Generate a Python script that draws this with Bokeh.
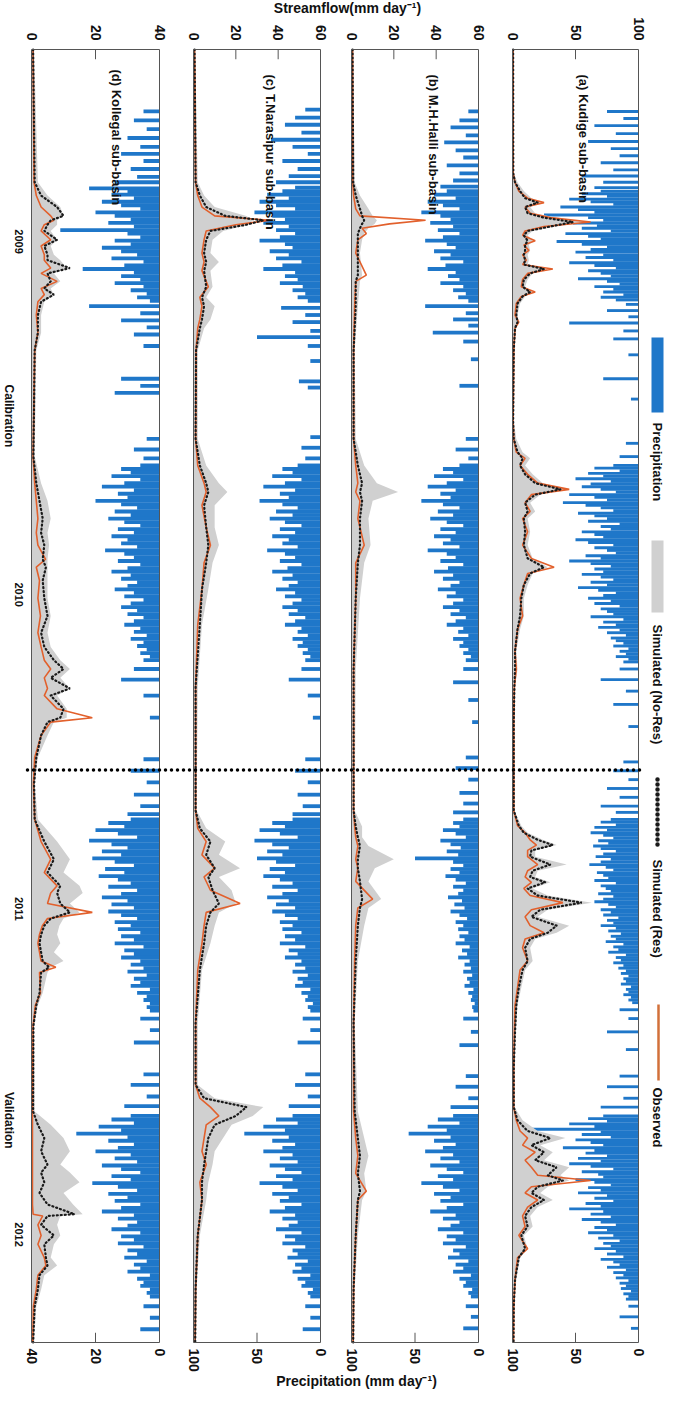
import math
from bokeh.plotting import figure
from bokeh.models import Range1d
from bokeh.core.properties import value
from bokeh.embed import file_html
from bokeh.resources import INLINE

FONT = "Liberation Sans"
BLUE = "#1F77C9"
GREY = "#D0D0D0"
ORANGE = "#E2602C"
DOTS = "#1A1A1A"

# ---------------- data ----------------
n_days = 1461                       # 2009-01-01 .. 2012-12-31, day index
years = ["2009", "2010", "2011", "2012"]
year_days = [217, 616, 971, 1339]
split_day = 814                     # calibration | validation
period_labels = ["Calibration", "Validation"]
period_days = [414, 1210]

panels = ["a", "b", "c", "d"]
titles = {"a": "(a)  Kudige sub-basin", "b": "(b) M.H.Halli sub-basin",
          "c": "(c) T.Narasipur  sub-basin", "d": "(d) Kollegal sub-basin"}
flow_max = {"a": 100, "b": 60, "c": 60, "d": 40}
prec_max = {"a": 100, "b": 100, "c": 100, "d": 40}
flow_ticks = {"a": [0, 50, 100], "b": [0, 20, 40, 60], "c": [0, 20, 40, 60], "d": [0, 20, 40]}
prec_ticks = {"a": [100, 50, 0], "b": [100, 50, 0], "c": [100, 50, 0], "d": [40, 20, 0]}

# streamflow (mm/day): day, observed, simulated (Res), simulated (No-Res)
day_a = [0, 140, 150, 160, 168, 173, 178, 185, 190, 195, 200, 205, 210, 216, 221, 227, 232, 238, 243, 248, 253, 260, 268, 274, 279, 287, 300, 308, 315, 340, 420,
         440, 455, 462, 470, 480, 490, 497, 503, 512, 522, 530, 545, 560, 575, 585, 592, 605, 620, 640, 655, 680, 700, 720, 760,
         860, 877, 885, 893, 899, 905, 912, 921, 928, 935, 941, 948, 956, 964, 972, 980, 990, 998, 1005, 1015, 1030, 1040, 1060, 1080, 1110, 1150,
         1195, 1210, 1222, 1230, 1238, 1246, 1255, 1263, 1272, 1278, 1285, 1292, 1300, 1308, 1318, 1330, 1340, 1355, 1365, 1390, 1420, 1461]
obs_a = [0.5, 0.6, 2, 5, 12, 25, 10, 14, 30, 62, 25, 10, 8, 18, 9, 13, 8, 11, 8, 32, 12, 8, 7, 18, 7, 3, 2, 5, 2, 1, 0.5,
         1, 3, 10, 6, 12, 20, 45, 15, 10, 14, 8, 12, 8, 15, 33, 12, 9, 6, 8, 4, 2, 3, 1.5, 1,
         1, 4, 10, 14, 19, 12, 12, 20, 12, 10, 15, 9, 14, 40, 15, 10, 14, 25, 10, 8, 12, 6, 4, 2, 1.5, 1,
         1, 3, 6, 12, 8, 18, 10, 15, 20, 62, 15, 10, 20, 12, 8, 10, 5, 12, 4, 2, 1, 0.8]
res_a = [0.5, 0.6, 2, 6, 10, 20, 10, 12, 25, 48, 30, 12, 9, 12, 10, 10, 9, 10, 9, 25, 14, 9, 8, 14, 8, 4, 3, 4, 2, 1, 0.5,
         1, 4, 8, 6, 10, 18, 38, 18, 10, 12, 9, 10, 9, 12, 25, 14, 9, 7, 6, 4, 2, 2, 1.5, 1,
         1, 5, 9, 20, 32, 15, 14, 30, 16, 14, 26, 12, 20, 55, 22, 15, 35, 28, 14, 10, 12, 8, 5, 3, 2, 1,
         1, 4, 12, 30, 15, 25, 18, 35, 28, 40, 20, 15, 25, 15, 10, 12, 7, 10, 5, 2, 1, 0.8]
nores_a = [0.8, 1, 4, 9, 15, 24, 14, 18, 35, 58, 35, 16, 12, 16, 13, 14, 12, 13, 12, 28, 16, 12, 10, 16, 10, 6, 4, 5, 3, 1.5, 1,
           3, 8, 14, 10, 16, 24, 42, 22, 14, 18, 12, 14, 12, 16, 28, 16, 12, 9, 9, 6, 3, 4, 2, 1.5,
           1.5, 7, 12, 24, 35, 18, 18, 43, 20, 18, 30, 16, 28, 63, 28, 20, 45, 35, 18, 14, 16, 10, 7, 4, 2.5, 1.5,
           1.5, 8, 20, 42, 22, 32, 25, 45, 38, 45, 28, 22, 32, 20, 14, 16, 9, 12, 6, 3, 1.5, 1]

day_b = [0, 150, 165, 180, 188, 193, 197, 202, 208, 215, 230, 255, 262, 290, 340,
         440, 470, 490, 500, 510, 530, 560, 580, 620, 700,
         860, 878, 890, 900, 915, 925, 940, 960, 970, 990, 1030, 1100,
         1200, 1230, 1250, 1270, 1290, 1300, 1340, 1400, 1461]
obs_b = [0.5, 0.6, 1, 2, 4, 35, 18, 5, 7, 3, 2, 7, 2, 1.5, 1,
         1, 2, 3, 2, 4, 3, 6, 2, 2, 1,
         1, 1.5, 2, 3, 2, 3, 2, 10, 3, 2, 1.5, 1,
         1, 2, 3, 2, 7, 3, 2, 1, 0.8]
res_b = [0.5, 0.8, 2, 4, 5, 6, 5, 4, 3, 3, 3, 3, 2, 2, 1,
         1, 3, 5, 4, 5, 4, 4, 3, 2, 1,
         1, 2, 3, 4, 3, 3, 4, 5, 4, 3, 2, 1,
         1.5, 3, 4, 3, 4, 3, 2, 1, 0.8]
nores_b = [0.8, 1.5, 4, 8, 10, 12, 11, 8, 6, 5, 4, 5, 4, 3, 1.5,
           2, 6, 12, 22, 10, 8, 9, 6, 4, 2,
           1.5, 5, 5, 8, 20, 11, 8, 14, 8, 6, 3, 1.5,
           3, 6, 8, 6, 7, 5, 3, 1.5, 1]

day_c = [0, 150, 165, 178, 188, 193, 198, 205, 215, 230, 240, 250, 268, 280, 290, 305, 315, 340,
         440, 470, 490, 500, 515, 540, 560, 580, 610, 650, 720,
         860, 880, 895, 910, 925, 935, 950, 965, 975, 990, 1010, 1040, 1100,
         1170, 1185, 1195, 1205, 1215, 1230, 1245, 1260, 1280, 1300, 1340, 1400, 1461]
obs_c = [0.5, 1, 2, 4, 10, 36, 20, 6, 5, 4, 5, 4, 7, 3, 4, 3, 2, 1.2,
         1, 2, 5, 6, 4, 6, 8, 5, 4, 2, 1,
         1, 2, 6, 4, 10, 5, 8, 22, 6, 5, 4, 2, 1,
         1, 3, 8, 12, 6, 5, 4, 6, 3, 4, 2, 1, 0.8]
res_c = [0.5, 1, 3, 6, 15, 33, 25, 8, 6, 5, 6, 5, 6, 4, 5, 4, 3, 1.2,
         1, 3, 6, 7, 5, 6, 7, 6, 4, 3, 1,
         1, 3, 8, 6, 10, 7, 9, 12, 8, 6, 5, 3, 1,
         1, 5, 25, 20, 10, 7, 6, 5, 4, 4, 2, 1, 0.8]
nores_c = [0.8, 2, 5, 10, 25, 28, 26, 14, 9, 8, 12, 8, 9, 6, 10, 8, 5, 2,
           2, 6, 12, 16, 10, 10, 12, 9, 7, 4, 2,
           1.5, 6, 15, 12, 22, 12, 18, 20, 12, 10, 8, 4, 2,
           2, 10, 33, 28, 18, 14, 10, 9, 7, 6, 3, 1.5, 1]

day_d = [0, 150, 165, 178, 188, 193, 198, 205, 215, 222, 232, 238, 247, 253, 262, 270, 277, 285, 300, 320, 340,
         460, 490, 510, 530, 546, 560, 576, 585, 600, 620, 640, 659, 675, 690, 700, 710, 722, 730, 745, 755, 760, 775, 800, 830,
         870, 895, 915, 930, 945, 953, 965, 975, 982, 990, 1000, 1010, 1020, 1030, 1037, 1043, 1066, 1080, 1103,
         1200, 1215, 1230, 1245, 1260, 1269, 1280, 1292, 1305, 1316, 1318, 1328, 1340, 1350, 1365, 1374, 1385, 1401, 1420, 1461]
obs_d = [0.5, 0.8, 1.5, 3, 6, 7, 4, 3, 6, 3, 4, 4, 6, 3, 8, 3, 4, 2, 1.5, 2, 1,
         0.5, 1, 1.5, 2, 1.5, 2, 4.4, 1.5, 2.5, 2, 2.8, 2, 3, 4, 6, 4, 5, 4, 8, 19, 6, 3, 1, 0.6,
         1, 3, 6, 4, 8, 6, 5, 19, 5, 3.4, 2.5, 2, 2.5, 3, 7.6, 2.5, 2.8, 1.2, 0.5,
         0.3, 0.3, 0.3, 0.3, 0.3, 0.3, 0.3, 0.3, 0.3, 0.5, 3.5, 2, 3, 2, 4, 4.5, 2, 1.5, 0.6, 0.4]
res_d = [0.5, 1, 3, 8, 10, 6, 5, 4, 8, 4, 5, 5, 12, 5, 6, 4, 7, 3, 2, 2, 1,
         0.6, 1.5, 2.5, 3.5, 3, 4, 3.5, 4.5, 3.5, 4, 5, 3, 4, 7, 10, 6, 12, 6, 10, 9, 5, 3, 1.5, 0.8,
         1, 4, 7, 5, 9, 8, 9, 12, 6, 4, 3, 2.5, 3, 3.5, 5.5, 3, 2.5, 1.5, 0.6,
         0.5, 2, 4, 3, 5, 3, 4, 2.5, 5, 13.4, 5, 3, 7, 4, 4.5, 5, 2.5, 2, 1, 0.5]
nores_d = [0.8, 2, 5, 9, 10, 8, 8, 6, 8, 6, 7, 9, 11, 7, 9, 6, 7, 4, 3, 3, 1.5,
           1, 3, 5, 6, 5, 5.5, 5, 5, 5, 5, 6, 5, 6, 9, 12, 9, 12, 8, 11, 11, 7, 5, 2, 1,
           2, 8, 12, 10, 15, 16, 12, 15, 10, 8.7, 8, 9, 7, 10, 6, 5, 3.5, 2, 0.8,
           1, 6, 10, 12, 9, 12, 15, 10, 13, 16, 9, 8, 9, 7, 6, 8, 4, 3, 1.5, 0.8]

# precipitation (mm/day): isolated days + wet-season runs (one value every `step` days)
prec_a_days = [70, 78, 86, 95, 104, 112, 120, 128, 136, 143, 150, 156, 288, 295, 302, 309, 318, 327, 345, 372, 395, 445, 460,
               700, 712, 725, 740, 765, 805, 815, 825, 835, 845, 855, 862, 1085, 1095, 1110, 1130, 1160, 1172, 1185, 1195, 1420, 1432, 1445]
prec_a_vals = [25, 12, 35, 18, 40, 22, 15, 30, 20, 45, 28, 35, 10, 25, 8, 55, 12, 20, 8, 28, 6, 10, 15,
               15, 30, 10, 20, 8, 12, 20, 8, 25, 15, 30, 18, 15, 8, 25, 10, 15, 25, 12, 30, 8, 15, 6]
prec_a_start, prec_a_step = [160, 470, 870, 1205], 3
prec_a_2009 = [30, 45, 25, 55, 38, 20, 62, 48, 35, 75, 40, 28, 52, 33, 45, 22, 58, 40, 30, 65, 45, 25, 38, 50, 28, 42, 20, 55, 35, 18, 40, 30, 22, 48, 25, 15, 35, 20, 28, 12, 30, 18]
prec_a_2010 = [20, 35, 15, 40, 28, 50, 22, 38, 45, 30, 18, 55, 35, 25, 60, 42, 30, 20, 48, 35, 25, 40, 15, 30, 22, 45, 35, 28, 50, 40, 20, 35, 25, 18, 42, 30, 55, 38,
               22, 35, 28, 45, 30, 20, 38, 25, 48, 32, 18, 28, 40, 22, 35, 15, 30, 25, 20, 38, 12, 28, 18, 32, 15, 25, 10, 22, 18, 12, 20, 8, 15, 10, 18, 8, 12]
prec_a_2011 = [22, 30, 18, 35, 25, 38, 28, 20, 32, 24, 36, 30, 18, 28, 34, 22, 30, 39, 26, 20, 33, 28, 24, 35, 18, 30, 26, 22, 32, 20, 28, 35, 24, 18, 30,
               22, 28, 16, 25, 20, 30, 18, 24, 14, 22, 18, 26, 12, 20, 16, 24, 10, 18, 14, 20, 12, 16, 10, 14, 8, 12, 10, 14, 6, 10, 8, 12, 6, 8, 5]
prec_a_2012 = [28, 40, 25, 55, 35, 90, 30, 45, 22, 50, 38, 28, 60, 35, 42, 25, 48, 30, 55, 38, 20, 45, 32, 28, 50, 35, 22, 40, 30, 48, 25, 35, 20, 42, 30,
               55, 28, 38, 22, 45, 30, 18, 35, 25, 40, 20, 32, 15, 28, 22, 35, 18, 25, 12, 30, 20, 15, 25, 10, 20, 12, 18, 8, 15, 10, 14, 6, 12, 8, 10]

prec_b_days = [70, 80, 88, 97, 105, 114, 122, 131, 140, 148, 155, 290, 298, 305, 312, 320, 330, 350, 380, 440, 452, 462,
               700, 715, 735, 760, 800, 812, 825, 840, 852, 862, 1095, 1110, 1125, 1160, 1172, 1185, 1195, 1420, 1432, 1445]
prec_b_vals = [8, 15, 22, 10, 27, 18, 12, 25, 15, 20, 30, 42, 10, 20, 8, 36, 12, 6, 15, 10, 18, 8,
               12, 20, 8, 5, 10, 18, 8, 15, 12, 20, 12, 6, 15, 10, 18, 8, 22, 10, 6, 12]
prec_b_start, prec_b_step = [160, 470, 870, 1205], 4
prec_b_2009 = [25, 35, 18, 40, 28, 15, 45, 30, 22, 38, 20, 32, 15, 28, 42, 25, 18, 35, 22, 30, 12, 26, 40, 18, 24, 15, 30, 12, 20, 10, 16, 8]
prec_b_2010 = [15, 28, 20, 35, 12, 25, 40, 18, 30, 22, 45, 28, 15, 32, 20, 38, 25, 12, 30, 18, 35, 22, 28, 15, 40, 25, 18, 30,
               12, 24, 35, 20, 28, 15, 22, 32, 18, 25, 12, 20, 28, 15, 22, 10, 18, 25, 12, 16, 8, 20, 12, 15, 8, 12, 6, 10]
prec_b_2011 = [12, 20, 15, 28, 18, 10, 30, 22, 14, 25, 16, 50, 20, 12, 22, 15, 26, 18, 10, 20, 12, 16, 24, 13, 19, 11, 22, 15,
               9, 18, 12, 16, 8, 15, 11, 18, 7, 13, 9, 16, 7, 11, 6, 12, 5, 9, 7, 11, 4, 8, 5, 6, 3, 5, 4]
prec_b_2012 = [20, 32, 15, 40, 25, 55, 22, 35, 18, 28, 42, 20, 30, 15, 38, 25, 12, 32, 20, 45, 28, 15, 35, 22, 30, 12,
               25, 38, 18, 28, 15, 22, 32, 12, 25, 18, 28, 10, 20, 15, 24, 8, 18, 12, 20, 6, 15, 10, 12, 5, 8, 6]

prec_c_days = [68, 77, 85, 94, 102, 110, 118, 126, 135, 143, 150, 156, 292, 300, 308, 318, 325, 335, 352, 375, 382, 438, 450, 462,
               700, 712, 730, 755, 802, 815, 828, 842, 855, 864, 1095, 1108, 1122, 1158, 1170, 1183, 1194, 1420, 1433, 1446]
prec_c_vals = [12, 20, 28, 15, 39, 22, 10, 30, 18, 25, 35, 20, 31, 12, 22, 8, 50, 10, 8, 17, 10, 8, 15, 12,
               15, 25, 10, 6, 12, 20, 10, 18, 14, 22, 14, 8, 18, 12, 20, 10, 25, 12, 8, 14]
prec_c_start, prec_c_step = [160, 470, 870, 1205], 4
prec_c_2009 = [30, 42, 25, 48, 35, 20, 52, 38, 28, 45, 25, 35, 20, 32, 48, 28, 22, 40, 25, 35, 15, 30, 45, 20, 28, 18, 32, 14, 22, 12, 18, 10]
prec_c_2010 = [18, 30, 22, 38, 15, 28, 45, 20, 32, 25, 48, 30, 18, 35, 22, 40, 28, 15, 32, 20, 38, 25, 30, 18, 42, 28, 20, 32,
               15, 26, 38, 22, 30, 18, 25, 35, 20, 28, 15, 22, 30, 18, 25, 12, 20, 28, 15, 18, 10, 22, 14, 18, 10, 14, 8, 12]
prec_c_2011 = [22, 38, 28, 48, 32, 18, 52, 38, 25, 42, 30, 50, 35, 20, 40, 28, 45, 32, 22, 38, 18, 30, 42, 25, 35, 20, 38, 28,
               18, 32, 22, 30, 15, 28, 20, 32, 12, 25, 18, 28, 15, 20, 12, 22, 10, 18, 14, 20, 8, 15, 10, 12, 6, 10, 8]
prec_c_2012 = [22, 35, 18, 45, 28, 60, 25, 38, 20, 30, 45, 22, 32, 18, 40, 28, 15, 35, 22, 48, 30, 18, 38, 25, 32, 15,
               28, 40, 20, 30, 18, 25, 35, 15, 28, 20, 30, 12, 22, 18, 26, 10, 20, 15, 22, 8, 18, 12, 15, 6, 10, 8]

prec_d_days = [70, 80, 90, 100, 110, 118, 126, 135, 144, 150, 157, 290, 298, 306, 314, 322, 335, 372, 380, 388, 440, 452, 462,
               700, 712, 730, 755, 802, 815, 828, 842, 855, 864, 1095, 1108, 1122, 1158, 1170, 1183, 1194, 1420, 1433, 1446]
prec_d_vals = [5, 8, 4, 10, 6, 12, 5, 9, 7, 14, 22, 22, 6, 12, 4, 8, 5, 12, 6, 14, 4, 8, 5,
               8, 12, 5, 3, 5, 9, 4, 8, 6, 10, 6, 3, 8, 5, 9, 4, 11, 5, 3, 6]
prec_d_start, prec_d_step = [160, 470, 870, 1205], 4
prec_d_2009 = [10, 15, 8, 18, 12, 6, 20, 14, 9, 16, 8, 31, 10, 6, 14, 9, 18, 12, 7, 15, 5, 11, 24, 8, 12, 6, 14, 5, 9, 4, 7, 3]
prec_d_2010 = [6, 12, 9, 15, 6, 11, 18, 8, 13, 10, 20, 12, 7, 14, 9, 16, 11, 6, 13, 8, 15, 10, 12, 7, 17, 11, 8, 13,
               6, 10, 15, 9, 12, 7, 10, 14, 8, 11, 5, 9, 12, 7, 10, 5, 8, 11, 6, 8, 4, 9, 5, 7, 4, 6, 3, 5]
prec_d_2011 = [9, 16, 11, 20, 13, 7, 22, 15, 10, 18, 12, 21, 14, 8, 17, 11, 19, 13, 9, 16, 7, 12, 18, 10, 15, 8, 16, 12,
               7, 14, 9, 13, 6, 12, 8, 14, 5, 11, 8, 12, 6, 9, 5, 10, 4, 8, 6, 9, 3, 7, 4, 5, 3, 4, 3]
prec_d_2012 = [9, 15, 8, 19, 12, 26, 10, 16, 8, 13, 20, 9, 14, 7, 18, 12, 6, 15, 9, 21, 13, 7, 16, 10, 14, 6,
               12, 18, 8, 13, 7, 10, 15, 6, 12, 8, 13, 5, 10, 7, 11, 4, 8, 6, 10, 3, 7, 5, 6, 3, 4, 3]

flows = {"a": (day_a, obs_a, res_a, nores_a), "b": (day_b, obs_b, res_b, nores_b),
         "c": (day_c, obs_c, res_c, nores_c), "d": (day_d, obs_d, res_d, nores_d)}
precs = {"a": (prec_a_days, prec_a_vals, prec_a_start, prec_a_step, [prec_a_2009, prec_a_2010, prec_a_2011, prec_a_2012]),
         "b": (prec_b_days, prec_b_vals, prec_b_start, prec_b_step, [prec_b_2009, prec_b_2010, prec_b_2011, prec_b_2012]),
         "c": (prec_c_days, prec_c_vals, prec_c_start, prec_c_step, [prec_c_2009, prec_c_2010, prec_c_2011, prec_c_2012]),
         "d": (prec_d_days, prec_d_vals, prec_d_start, prec_d_step, [prec_d_2009, prec_d_2010, prec_d_2011, prec_d_2012])}

legend_items = ["Precipitation", "Simulated (No-Res)", "Simulated (Res)", "Observed"]

# ---------------- layout (page pixels) ----------------
PX0, PX1, PY0, PY1 = 8, 672, 8, 1397
PANEL_X = {"d": (39, 167), "c": (201, 328), "b": (359, 486), "a": (520, 646)}
TOP, BOT = 57, 1350


def lin_range(x0, x1, v0, v1, lo, hi):
    k = (v1 - v0) / (x1 - x0)
    return Range1d(start=v0 + (lo - x0) * k, end=v0 + (hi - x0) * k)


p = figure(width=PX1 - PX0, height=PY1 - PY0, x_range=Range1d(PX0, PX1), y_range=Range1d(PY1, PY0),
           output_backend="svg", toolbar_location=None, x_axis_location=None, y_axis_location=None,
           min_border=0, outline_line_color=None)
p.grid.visible = False
p.background_fill_color = "white"

# time scale: day 0 at panel top, n_days at panel bottom
p.extra_y_ranges["t"] = lin_range(TOP, BOT, 0, n_days, PY1, PY0)

ang = -math.pi / 2
common_txt = dict(text_font=value(FONT), text_font_style="bold", angle=ang, text_color="#111111")

for k in panels:
    x0, x1 = PANEL_X[k]
    fr, pr = "flow_" + k, "prec_" + k
    p.extra_x_ranges[fr] = lin_range(x0, x1, 0, flow_max[k], PX0, PX1)
    p.extra_x_ranges[pr] = lin_range(x0, x1, prec_max[k], 0, PX0, PX1)

    # precipitation bars hanging from the right edge
    pdays, pvals, starts, step, runs = precs[k]
    bd, bv = list(pdays), list(pvals)
    for s, run in zip(starts, runs):
        bd += [s + step * i for i in range(len(run))]
        bv += run
    p.hbar(y=bd, left=0, right=bv, height=step * 1.08, x_range_name=pr, y_range_name="t",
           fill_color=BLUE, line_color=None, fill_alpha=1.0)

    days, obs, res, nores = flows[k]
    p.harea(y=days, x1=[0] * len(days), x2=nores, x_range_name=fr, y_range_name="t",
            fill_color=GREY, fill_alpha=1)
    p.line(x=obs, y=days, x_range_name=fr, y_range_name="t", line_color=ORANGE, line_width=1.6)
    p.line(x=res, y=days, x_range_name=fr, y_range_name="t", line_color=DOTS, line_width=2.2,
           line_dash="1 3", line_cap="round")

    # frame
    p.quad(left=[0], right=[flow_max[k]], top=[0], bottom=[n_days], x_range_name=fr, y_range_name="t",
           fill_color=None, line_color="#555555", line_width=1)
    inner = [v for v in flow_ticks[k] if 0 < v < flow_max[k]]
    p.segment(x0=inner, x1=inner, y0=[0] * len(inner), y1=[11] * len(inner), x_range_name=fr,
              y_range_name="t", line_color="#555555", line_width=1)
    inner_p = [v for v in prec_ticks[k] if 0 < v < prec_max[k]]
    p.segment(x0=inner_p, x1=inner_p, y0=[n_days] * len(inner_p), y1=[n_days - 11] * len(inner_p),
              x_range_name=pr, y_range_name="t", line_color="#555555", line_width=1)

    # tick labels
    p.text(x=flow_ticks[k], y=[48] * len(flow_ticks[k]), text=[str(v) for v in flow_ticks[k]],
           x_range_name=fr, text_align="right", text_baseline="middle", text_font_size="14px", **common_txt)
    p.text(x=prec_ticks[k], y=[1356] * len(prec_ticks[k]), text=[str(v) for v in prec_ticks[k]],
           x_range_name=pr, text_align="left", text_baseline="middle", text_font_size="14px", **common_txt)

# panel titles
p.text(x=[591, 441, 278, 124], y=[82, 82, 82, 77], text=[titles[k] for k in panels],
       text_align="left", text_baseline="middle", text_font_size="13px", **common_txt)

# calibration / validation divider
p.segment(x0=[35], x1=[650], y0=[split_day], y1=[split_day], y_range_name="t",
          line_color="#000000", line_width=3.5, line_dash="0 6", line_cap="round")

# time labels on the left
p.text(x=[26] * 4, y=year_days, text=years, y_range_name="t", text_align="center",
       text_baseline="middle", text_font_size="11px", **common_txt)
p.text(x=[16, 16], y=period_days, text=period_labels, y_range_name="t", text_align="center",
       text_baseline="middle", text_font_size="12px", **common_txt)

# axis titles
p.text(x=[355], y=[15], text=["Streamflow(mm day\u207b\u00b9)"], text_align="center", text_baseline="middle",
       text_font=value(FONT), text_font_style="bold", text_font_size="14px", text_color="#111111")
p.text(x=[364], y=[1388], text=["Precipitation (mm day\u207b\u00b9)"], text_align="center", text_baseline="middle",
       text_font=value(FONT), text_font_style="bold", text_font_size="14px", text_color="#111111")

# legend (rotated, right edge)
p.quad(left=[659], right=[671], top=[345], bottom=[420], fill_color=BLUE, line_color=None)
p.quad(left=[659], right=[671], top=[548], bottom=[620], fill_color=GREY, line_color=None)
p.segment(x0=[665], x1=[665], y0=[787], y1=[857], line_color=DOTS, line_width=4.5, line_dash="0 5", line_cap="round")
p.segment(x0=[666], x1=[666], y0=[1012], y1=[1088], line_color="#D2703A", line_width=2.5)
p.text(x=[665] * 4, y=[430, 632, 867, 1095], text=legend_items, text_align="left", text_baseline="middle",
       text_font_size="13px", **common_txt)

open("out.html", "w").write(file_html(p, INLINE))
